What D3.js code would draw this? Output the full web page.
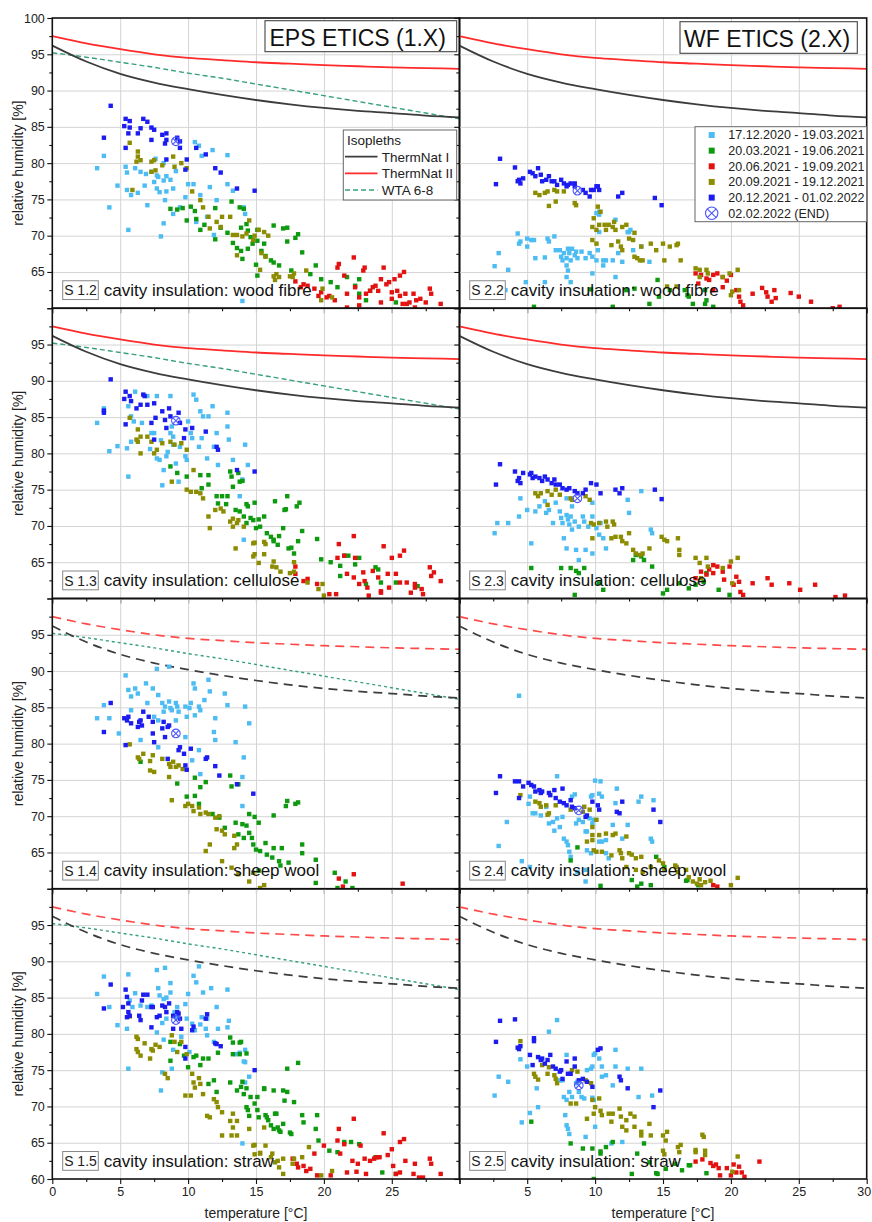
<!DOCTYPE html>
<html>
<head>
<meta charset="utf-8">
<script src="https://cdn.jsdelivr.net/npm/d3@7"></script>
<style>
  html, body { margin: 0; padding: 0; background: #fff; }
  svg { display: block; font-family: "Liberation Sans", Arial, sans-serif; }
</style>
</head>
<body>
<svg id="chart" width="872" height="1222"></svg>
<script>
// ---------- Isopleths (temperature [°C] -> relative humidity [%]) ----------
const isoTemps   = [0, 2.5, 5, 7.5, 10, 12.5, 15, 17.5, 20, 22.5, 25, 27.5, 30];
const thermNatI  = [96.2, 94.0, 92.3, 91.1, 90.2, 89.4, 88.7, 88.1, 87.6, 87.2, 86.9, 86.55, 86.3];
const thermNatII = [97.5, 96.5, 95.7, 95.0, 94.5, 94.2, 93.9, 93.7, 93.5, 93.35, 93.2, 93.1, 93.0];
const wta68      = [95.2, 94.6, 93.9, 93.2, 92.4, 91.7, 90.9, 90.1, 89.3, 88.5, 87.7, 86.9, 86.1];

// ---------- Measurement periods ----------
const periodLabels = ["17.12.2020 - 19.03.2021", "20.03.2021 - 19.06.2021", "20.06.2021 - 19.09.2021",
                      "20.09.2021 - 19.12.2021", "20.12.2021 - 01.02.2022"];
const endLabel = "02.02.2022 (END)";

// ---------- S 1.2 (EPS, wood fibre) : [temperature, rh] ----------
const s12_p1 = [[3.3,79.3],[3.8,81.0],[4.2,73.9],[4.8,76.9],[5.6,70.8],[5.4,79.5],[5.5,78.7],[5.8,75.6],[5.5,76.3],[6.1,79.3],[6.5,78.8],[6.8,76.9],[6.9,78.5],[7.3,78.8],[7.7,78.3],[7.7,76.5],[7.9,76.0],[8.2,80.0],[8.2,77.6],[8.4,78.2],[8.7,77.7],[8.0,69.9],[8.2,71.7],[8.3,74.9],[8.9,76.5],[8.9,73.0],[9.4,73.9],[9.8,75.3],[10.0,77.1],[10.4,77.1],[10.5,82.9],[10.8,82.4],[11.0,81.0],[11.6,76.7],[11.8,81.8],[12.1,74.9],[11.9,70.1],[12.9,81.1],[12.9,77.1],[13.3,76.2],[14.1,73.9],[14.2,73.0],[10.6,71.9],[11.4,72.6],[10.9,75.6],[14.0,61.0],[7.8,78.1],[7.5,77.4],[8.4,76.1],[7.6,80.6],[9.1,78.9],[6.3,75.9],[7.0,74.2]];
const s12_p2 = [[9.2,73.6],[9.6,73.8],[10.2,74.0],[10.5,73.4],[9.9,72.1],[10.6,72.3],[10.9,70.8],[11.2,71.5],[12.4,71.1],[13.2,74.7],[13.8,73.9],[14.1,73.7],[14.3,71.6],[13.9,71.1],[14.4,70.7],[14.6,69.8],[14.75,68.9],[14.4,68.2],[15.1,69.3],[15.6,68.9],[15.4,67.9],[15.7,67.2],[16.1,66.6],[16.3,66.3],[16.7,65.9],[16.3,71.4],[17.3,71.1],[18.1,70.2],[18.4,67.7],[19.4,65.9],[17.6,65.2],[19.0,64.7],[19.8,64.0],[20.5,63.6],[21.0,62.9],[21.7,64.3],[22.6,64.0],[22.3,63.1],[23.4,62.4],[22.6,62.0],[23.1,61.1],[25.3,60.8],[15.1,64.5],[13.9,67.9],[13.3,69.0],[12.9,70.4],[13.6,68.3],[14.0,66.8],[15.0,66.0],[12.0,69.5],[8.7,73.7],[12.0,73.8],[17.0,71.0],[17.3,69.2],[17.9,69.7],[15.1,70.8]];
const s12_p3 = [[18.5,63.3],[18.8,63.1],[19.3,62.7],[19.8,62.2],[20.4,61.7],[20.8,61.1],[21.0,65.6],[21.1,66.1],[21.5,64.5],[21.7,62.0],[22.2,67.0],[22.3,62.9],[22.6,61.5],[22.9,65.2],[23.0,65.6],[23.1,62.0],[23.4,62.4],[23.6,62.9],[23.8,63.1],[24.0,62.4],[24.2,64.0],[24.4,65.6],[24.6,63.3],[24.8,63.6],[25.2,64.0],[25.0,62.2],[25.0,61.3],[25.4,62.4],[25.6,64.5],[25.9,65.0],[25.6,61.7],[26.0,62.0],[26.1,60.6],[26.3,60.8],[26.6,62.0],[26.8,61.1],[27.1,61.3],[27.5,60.8],[27.8,62.7],[27.9,62.0],[28.6,60.6],[24.2,60.8],[21.7,60.1],[22.6,60.4],[25.8,60.6],[26.7,60.1],[18.3,62.9],[19.6,61.7],[20.2,61.5],[17.9,63.7]];
const s12_p4 = [[5.7,82.8],[6.3,81.6],[6.3,80.9],[6.2,80.2],[6.5,80.4],[7.3,80.2],[7.5,80.4],[7.6,79.0],[7.3,78.8],[8.1,79.7],[8.9,80.9],[9.5,80.0],[9.9,79.3],[9.0,79.5],[10.3,76.1],[10.9,74.9],[11.1,73.9],[11.5,72.6],[11.6,71.0],[12.1,71.9],[12.4,71.2],[12.5,72.6],[13.1,72.6],[13.3,70.1],[13.6,70.1],[14.0,69.9],[14.3,70.3],[14.8,69.4],[15.2,70.8],[15.6,70.5],[15.4,67.6],[15.7,67.1],[15.3,65.3],[16.3,64.4],[16.4,63.9],[17.5,64.4],[17.8,64.8],[13.6,67.3],[14.5,72.1],[14.9,70.0],[15.9,70.0],[16.5,64.7],[16.7,64.3],[17.7,64.3],[18.7,65.2],[19.8,61.1],[20.6,61.5],[19.9,62.7],[5.9,76.3]];
const s12_p5 = [[4.3,87.9],[3.8,83.5],[5.4,86.1],[5.7,85.8],[5.3,85.1],[5.7,84.9],[5.4,82.1],[5.6,84.1],[6.3,84.1],[6.5,84.8],[6.7,86.1],[7.0,85.7],[7.3,84.9],[7.5,84.6],[7.3,83.2],[8.1,83.9],[8.4,84.1],[8.4,83.2],[8.3,82.7],[9.2,83.5],[9.4,83.0],[9.4,82.1],[9.9,80.5],[9.8,79.1],[8.4,80.5],[10.6,82.1],[11.3,81.2],[12.0,79.3],[12.4,78.7],[13.6,76.5],[14.9,76.2]];
const s12_end = [9.1, 83.0];

// ---------- S 1.3 (EPS, cellulose) ----------
const s13_p1 = [[3.3,84.2],[3.8,86.2],[4.2,80.3],[4.8,81.0],[5.6,76.8],[5.5,80.7],[5.8,81.6],[5.8,85.1],[5.6,86.5],[6.0,84.4],[6.1,88.5],[7.7,87.9],[8.7,87.9],[7.5,82.8],[7.7,79.3],[7.9,79.1],[8.2,77.7],[8.1,75.6],[8.4,79.6],[8.7,82.8],[8.8,83.7],[8.9,82.3],[9.3,76.1],[9.4,80.9],[9.8,79.6],[9.9,79.1],[10.0,84.4],[10.2,82.8],[10.3,82.1],[10.4,88.1],[10.6,87.4],[10.8,80.9],[10.9,85.8],[11.0,82.1],[11.1,85.1],[11.4,79.3],[11.5,85.1],[11.8,86.5],[11.9,80.9],[12.1,82.8],[12.2,78.4],[12.9,85.6],[12.9,83.7],[13.0,81.9],[13.3,79.1],[13.8,74.1],[14.1,68.1],[14.2,81.2],[14.4,78.4],[7.0,87.9],[7.3,82.8],[8.9,81.2],[7.2,80.6],[8.0,81.8],[8.5,80.2],[9.1,78.6],[6.6,84.2],[14.0,76.4]];
const s13_p2 = [[8.7,78.2],[9.2,77.3],[9.9,76.8],[10.9,77.0],[11.5,77.0],[11.5,75.7],[12.1,74.1],[12.5,74.1],[12.2,73.1],[12.9,74.1],[13.1,77.5],[13.2,76.8],[13.3,75.4],[13.7,77.3],[13.8,76.1],[13.5,72.2],[13.8,72.0],[14.1,71.3],[14.3,70.4],[14.4,72.7],[14.8,70.8],[15.0,69.7],[15.3,69.9],[15.6,71.3],[15.8,69.0],[16.1,68.5],[16.3,68.1],[16.4,73.4],[16.6,67.4],[17.0,69.7],[17.3,74.1],[17.1,72.2],[17.4,66.9],[17.8,66.2],[18.0,72.7],[18.1,67.9],[14.0,76.2],[14.3,73.0],[14.9,73.2],[14.6,71.1],[15.2,70.9],[16.3,67.9],[16.7,68.6],[17.2,72.3],[18.2,73.2],[17.6,67.0],[18.4,69.3],[19.5,68.2],[19.8,65.4],[20.5,65.0],[21.2,64.5],[21.5,65.9],[21.8,65.9],[22.6,65.6],[22.3,64.7],[21.2,63.1],[23.1,62.0],[23.8,64.3],[24.0,64.0],[24.2,62.2],[25.3,62.2],[26.9,61.7],[11.0,75.2],[12.8,73.0]];
const s13_p3 = [[17.9,63.4],[18.5,62.4],[18.8,62.7],[19.5,62.0],[20.4,60.6],[20.9,60.6],[21.1,67.5],[22.2,68.6],[21.0,65.6],[21.5,65.9],[21.7,63.4],[22.2,62.9],[22.3,65.6],[22.6,62.0],[22.9,63.6],[23.0,62.4],[23.2,61.5],[23.6,63.8],[24.0,62.9],[24.2,60.8],[24.4,67.2],[24.7,63.4],[25.0,65.6],[25.3,63.4],[25.6,65.9],[25.9,66.6],[25.6,62.2],[26.1,62.2],[26.4,60.8],[26.7,62.0],[26.7,61.5],[27.2,61.3],[27.3,60.6],[27.8,64.3],[27.9,63.1],[28.1,63.6],[28.6,62.4],[24.8,61.5],[24.2,61.0],[23.3,60.4],[17.9,64.4]];
const s13_p4 = [[5.7,84.9],[6.3,83.3],[6.5,82.3],[6.2,81.9],[6.3,81.6],[6.5,80.0],[7.0,82.3],[7.3,81.6],[7.5,80.0],[7.7,80.5],[8.1,81.4],[8.7,81.6],[8.8,76.1],[9.0,81.2],[9.5,81.4],[9.9,80.5],[9.9,75.0],[10.2,74.7],[10.4,77.7],[10.6,74.7],[10.9,74.5],[11.1,73.8],[11.5,71.3],[11.6,69.7],[12.0,72.2],[12.4,72.4],[12.6,72.0],[13.1,70.6],[13.3,69.9],[13.3,71.0],[13.6,70.4],[13.7,70.8],[13.5,66.9],[14.1,69.9],[14.8,67.6],[15.6,67.8],[14.8,65.8],[15.2,64.9],[16.2,64.4],[16.8,63.7],[17.5,63.5],[17.8,63.7],[16.3,65.1],[14.9,67.7],[14.9,66.1],[15.7,67.5],[15.6,66.1],[16.5,64.3],[17.8,65.0],[18.8,62.2],[19.9,62.0],[19.6,61.3],[20.0,60.4]];
const s13_p5 = [[4.3,90.2],[3.8,85.6],[3.8,85.9],[5.4,88.5],[5.7,87.9],[5.3,87.5],[5.8,87.2],[5.4,84.0],[6.2,86.2],[6.5,86.7],[6.7,88.1],[6.8,87.9],[7.0,86.7],[7.5,86.9],[7.3,84.2],[7.6,84.9],[8.1,85.8],[8.3,84.6],[8.6,86.2],[8.4,83.5],[8.7,85.1],[9.3,85.6],[9.4,84.2],[9.7,82.1],[9.8,83.3],[10.3,83.5],[11.3,83.0],[12.1,80.9],[12.2,80.5],[13.6,77.7],[14.9,77.5],[7.5,81.9]];
const s13_end = [9.1, 84.5];

// ---------- S 1.4 (EPS, sheep wool) ----------
const s14_p1 = [[3.3,83.5],[3.8,85.3],[4.2,83.5],[4.9,81.4],[5.4,89.4],[5.8,86.5],[5.6,87.4],[5.8,84.6],[6.1,87.6],[6.5,80.5],[6.9,88.3],[7.0,85.6],[7.4,87.6],[7.5,83.7],[7.7,90.3],[7.8,86.7],[7.8,83.2],[8.1,85.6],[8.2,84.4],[8.3,85.1],[8.6,85.8],[8.6,90.6],[8.7,84.9],[8.8,84.6],[9.1,85.6],[9.2,85.1],[9.3,84.4],[9.1,83.2],[7.8,79.5],[9.8,85.1],[9.9,83.7],[10.1,84.9],[9.8,80.9],[10.4,88.3],[10.5,83.9],[10.8,85.1],[10.9,84.6],[10.5,87.6],[11.2,86.0],[11.5,88.8],[11.6,87.2],[11.9,81.6],[12.0,83.5],[12.0,80.5],[12.7,86.9],[12.9,85.3],[13.5,80.2],[14.2,85.1],[14.5,82.8],[14.1,78.1],[10.8,79.1],[10.9,75.8],[14.0,75.4],[14.0,71.4],[10.3,77.7],[6.3,86.9],[10.2,85.6]];
const s14_p2 = [[6.5,77.5],[9.2,74.5],[10.5,75.3],[10.9,74.0],[11.3,74.7],[10.5,72.8],[9.9,72.7],[10.8,71.7],[13.1,75.6],[13.2,74.1],[13.7,74.4],[11.8,70.3],[12.3,69.8],[12.7,68.4],[13.5,69.1],[14.0,68.9],[14.3,68.7],[14.5,70.3],[13.7,67.5],[14.1,67.0],[14.5,67.7],[14.7,67.0],[14.8,66.1],[15.2,69.1],[15.0,65.4],[15.3,65.2],[15.7,66.3],[15.8,64.7],[16.2,64.3],[16.3,65.6],[16.7,63.8],[16.9,65.6],[17.4,63.6],[17.3,72.1],[17.2,71.4],[17.9,71.7],[18.1,71.9],[16.3,70.1],[18.4,66.1],[18.4,64.9],[19.4,64.0],[19.4,60.8],[20.8,62.2],[21.6,61.0],[22.1,60.1],[21.0,60.1],[16.8,63.2],[15.2,62.5],[14.9,69.9]];
const s14_p3 = [[21.1,61.4],[22.2,62.0],[21.4,60.3],[25.8,60.7]];
const s14_p4 = [[5.7,79.9],[6.3,78.1],[6.4,77.9],[6.7,78.6],[7.2,77.6],[7.4,78.4],[7.2,76.3],[7.5,76.1],[8.1,77.9],[8.6,77.2],[8.7,76.8],[8.6,75.4],[8.9,77.5],[9.1,76.8],[9.3,77.0],[8.8,72.2],[9.8,71.4],[10.0,71.7],[10.3,71.4],[10.4,70.7],[10.8,71.2],[10.9,70.3],[11.3,70.5],[11.5,70.3],[12.0,69.8],[12.3,70.0],[12.1,68.2],[12.5,68.0],[12.7,67.5],[13.4,67.3],[13.4,65.6],[13.6,66.1],[11.6,66.1],[11.3,65.2],[12.5,63.8],[13.2,62.9],[13.7,62.0],[15.3,60.1],[14.5,61.0],[15.6,60.5],[9.6,76.5],[14.8,62.2]];
const s14_p5 = [[4.3,85.6],[3.8,81.6],[5.3,83.5],[5.5,83.2],[5.4,79.8],[5.6,83.7],[5.8,82.8],[6.3,82.3],[6.4,83.0],[6.5,83.2],[6.6,82.5],[6.7,84.4],[7.1,83.7],[7.4,83.0],[7.4,81.4],[7.5,80.2],[8.1,82.1],[8.2,83.0],[8.3,80.9],[8.5,82.3],[8.6,82.5],[9.3,79.1],[9.4,79.5],[9.7,78.6],[8.5,77.9],[9.8,77.0],[11.3,77.9],[11.4,78.1],[12.0,76.9],[12.3,75.6],[13.6,74.4],[14.8,73.1],[10.2,79.3],[9.9,76.4]];
const s14_end = [9.1, 81.4];

// ---------- S 1.5 (EPS, straw) ----------
const s15_p1 = [[3.3,85.5],[3.8,87.9],[4.2,83.7],[4.8,81.2],[5.6,75.2],[5.6,88.2],[5.5,80.7],[5.7,84.6],[5.9,83.7],[6.1,85.6],[6.5,83.9],[7.0,83.7],[7.3,83.9],[7.7,88.8],[8.3,89.1],[7.8,86.3],[7.9,85.3],[8.2,84.8],[8.4,85.0],[8.7,87.0],[8.7,85.7],[7.7,80.2],[8.1,81.5],[8.1,74.7],[8.0,72.2],[8.2,79.2],[8.4,82.1],[8.8,75.2],[8.9,77.8],[9.0,83.0],[9.2,82.3],[9.2,83.7],[9.8,84.1],[9.9,82.1],[10.0,85.5],[10.3,81.4],[10.4,88.0],[10.5,80.5],[10.6,87.1],[10.8,89.3],[10.9,81.3],[11.0,82.3],[11.1,85.7],[11.3,80.7],[11.4,79.8],[11.4,82.1],[11.7,86.3],[11.9,78.9],[12.1,83.7],[12.2,80.7],[12.9,86.1],[12.9,80.9],[13.0,81.8],[13.5,77.2],[13.8,77.4],[14.2,76.1],[14.2,73.3],[14.0,64.9],[10.1,77.5],[14.2,77.8],[14.1,76.2],[14.5,74.1],[9.5,79.6]];
const s15_p2 = [[8.7,78.9],[8.7,76.3],[9.4,78.6],[9.7,77.0],[10.0,75.4],[10.4,76.8],[10.6,77.0],[11.1,76.6],[11.5,76.6],[11.5,73.1],[11.9,73.6],[12.1,72.0],[13.1,79.5],[13.3,78.8],[13.3,77.2],[13.8,78.8],[13.8,77.2],[13.1,73.3],[13.6,72.2],[13.9,72.7],[14.1,71.7],[14.3,69.9],[14.5,68.7],[15.1,71.3],[15.6,72.4],[15.8,68.5],[16.3,66.9],[16.4,69.0],[16.7,66.7],[17.0,72.2],[17.3,75.2],[17.5,66.4],[17.8,70.6],[13.9,78.9],[14.3,77.3],[14.0,73.4],[14.3,72.5],[14.6,71.3],[14.9,70.4],[14.4,69.5],[15.1,69.5],[15.2,68.5],[15.6,72.5],[15.7,68.8],[15.9,68.1],[16.1,67.4],[16.3,72.2],[16.5,69.0],[16.6,67.1],[16.8,66.5],[17.0,67.6],[17.1,70.8],[17.3,72.0],[17.6,66.2],[18.1,76.0],[18.4,68.8],[18.5,67.8],[19.4,66.9],[19.5,68.8],[19.6,65.3],[20.4,63.9],[21.0,63.7],[21.5,65.1],[22.0,65.1],[22.6,64.8],[23.8,63.0],[24.3,60.9],[25.3,60.7],[12.2,77.4],[10.9,75.7]];
const s15_p3 = [[17.7,62.8],[18.0,62.1],[18.1,61.6],[18.5,61.8],[18.7,61.1],[19.0,61.4],[19.3,63.5],[19.5,60.5],[20.0,64.6],[20.5,60.5],[21.0,65.3],[21.1,66.9],[21.2,63.5],[21.5,64.8],[21.7,60.9],[22.2,68.3],[22.1,62.5],[22.4,61.0],[22.5,62.1],[22.7,64.6],[23.0,62.8],[23.1,60.7],[23.4,62.5],[23.7,62.8],[23.9,63.0],[24.1,63.0],[24.4,66.3],[24.7,63.3],[25.0,64.1],[25.1,61.8],[25.3,60.7],[25.6,60.9],[25.6,65.1],[25.9,65.5],[26.0,62.5],[26.6,60.7],[26.7,62.1],[27.0,60.2],[27.3,60.2],[27.8,62.8],[27.9,62.1],[28.6,60.7]];
const s15_p4 = [[5.7,82.4],[6.2,79.6],[6.3,79.3],[6.2,77.9],[6.3,77.5],[6.5,77.0],[6.8,78.7],[7.3,77.9],[7.4,77.7],[7.2,76.6],[7.6,78.5],[7.9,78.2],[8.3,74.5],[8.5,73.9],[8.8,79.8],[9.0,78.9],[9.2,77.5],[9.5,78.9],[9.8,71.5],[10.2,71.5],[9.9,77.2],[10.3,74.5],[10.4,73.3],[10.5,72.6],[10.8,73.9],[10.9,73.1],[11.1,71.7],[11.4,68.7],[11.6,68.5],[11.9,71.0],[12.1,70.6],[12.2,69.9],[12.5,69.2],[12.5,66.0],[13.1,68.0],[13.3,67.1],[13.3,69.0],[13.6,68.0],[13.2,66.0],[13.6,66.0],[14.8,64.6],[14.9,63.4],[15.3,63.6],[15.7,64.6],[16.1,63.0],[16.4,62.3],[16.7,61.6],[17.0,60.7],[17.0,62.8],[14.5,66.9],[14.9,64.7],[15.6,67.1],[15.3,63.5],[16.2,63.5],[16.6,62.5],[17.7,62.1],[17.8,62.8],[18.4,63.0],[18.9,64.4],[19.8,60.5],[20.6,61.1]];
const s15_p5 = [[4.3,86.8],[3.8,83.5],[5.4,86.1],[5.2,83.7],[5.5,82.3],[5.6,83.0],[5.7,82.5],[5.5,85.1],[5.6,84.2],[6.4,82.5],[6.5,81.9],[6.7,85.4],[7.0,85.4],[6.6,84.6],[7.3,83.7],[7.4,83.7],[7.3,80.9],[7.7,82.3],[7.9,82.5],[8.1,83.9],[8.3,83.7],[8.4,83.0],[8.6,84.2],[8.9,82.5],[8.9,80.7],[9.2,83.0],[9.3,82.8],[9.4,82.1],[9.5,80.7],[9.8,78.2],[9.8,76.6],[10.3,80.5],[10.4,81.0],[11.3,82.1],[11.4,82.7],[12.0,78.7],[12.1,78.6],[12.4,78.3],[14.9,75.0]];
const s15_end = [9.1, 81.9];

// ---------- S 2.2 (WF, wood fibre) ----------
const s22_p1 = [[2.6,65.8],[2.9,67.6],[3.6,65.3],[4.3,70.3],[4.4,68.9],[4.5,69.2],[5.0,69.6],[5.3,69.4],[5.5,69.4],[5.0,68.5],[5.6,66.9],[6.3,67.0],[6.5,69.6],[6.6,69.2],[7.0,69.9],[7.1,68.0],[7.4,68.0],[7.5,67.1],[7.6,66.6],[7.7,67.6],[7.9,66.9],[8.0,68.2],[8.1,67.6],[8.2,66.6],[8.3,68.2],[8.5,67.3],[8.6,67.8],[7.9,65.9],[8.7,66.9],[9.0,67.8],[9.3,66.9],[9.6,67.6],[9.8,67.1],[10.1,66.6],[10.2,68.0],[10.3,72.9],[10.3,73.3],[10.6,65.9],[10.8,66.6],[11.3,66.6],[11.5,64.3],[11.7,67.6],[12.5,70.5],[12.8,68.0],[9.8,64.8],[7.9,64.3],[3.4,62.5],[4.9,63.6],[6.3,63.6],[8.2,63.6],[10.1,73.1],[10.3,70.5],[10.6,66.6],[12.0,66.4],[12.6,70.8],[13.4,68.5],[14.0,66.4],[11.5,72.2],[12.4,70.5],[8.0,65.2]];
const s22_p2 = [[11.3,60.2],[14.0,60.6],[14.6,63.9],[14.7,61.6],[15.5,62.5],[16.8,61.8],[16.9,61.6],[18.2,61.1],[17.2,60.6],[12.3,62.5],[12.9,62.7],[16.6,62.5],[18.1,62.5],[18.1,60.6],[18.7,60.2],[9.7,62.6],[5.5,60.2]];
const s22_p3 = [[17.4,64.8],[17.8,64.6],[18.2,64.1],[18.4,63.9],[18.7,64.6],[19.0,64.8],[19.4,64.3],[19.7,63.8],[20.0,64.6],[18.7,62.5],[19.4,62.9],[20.4,62.5],[20.6,61.6],[20.9,60.4],[21.6,62.0],[17.6,63.4],[20.7,60.9],[22.3,62.8],[22.6,62.2],[22.7,61.6],[23.0,60.9],[23.3,61.4],[23.2,62.5],[24.4,62.1],[25.0,61.6],[25.9,60.9],[27.5,60.0],[28.0,60.2]];
const s22_p4 = [[5.6,75.9],[5.9,75.6],[6.3,75.9],[6.5,76.1],[7.0,76.3],[7.2,76.1],[7.1,74.7],[6.6,74.1],[7.7,76.1],[8.5,74.5],[8.6,74.2],[9.9,72.4],[10.2,74.0],[9.8,71.2],[10.1,70.8],[10.3,71.5],[10.7,71.5],[10.8,70.8],[11.0,71.5],[11.3,71.2],[11.4,71.9],[11.5,70.8],[12.0,71.2],[12.3,71.5],[9.8,69.4],[10.1,68.9],[11.2,68.7],[11.7,69.2],[11.9,68.5],[12.0,68.0],[12.5,69.6],[12.8,69.4],[12.9,67.1],[13.1,66.9],[13.4,68.5],[13.5,66.6],[14.1,68.9],[14.5,68.0],[15.0,68.9],[15.5,68.5],[15.1,66.6],[16.1,68.9],[16.3,66.6],[17.4,65.5],[17.7,65.3],[18.2,65.3],[18.3,64.8],[17.7,64.3],[19.4,64.3],[19.9,64.8],[20.5,65.3],[20.1,62.3],[20.6,62.5],[20.0,61.8],[12.9,70.4],[13.3,66.6],[16.0,68.7],[15.3,63.0],[16.0,63.0],[10.4,73.3]];
const s22_p5 = [[3.0,80.6],[2.7,77.1],[4.1,79.4],[4.3,77.5],[4.4,77.7],[4.5,77.2],[4.7,77.9],[5.2,78.8],[5.4,78.6],[5.8,79.3],[5.6,78.2],[6.0,78.4],[6.1,77.5],[6.4,77.7],[6.6,78.2],[6.8,77.5],[7.0,77.5],[7.2,77.0],[7.5,77.7],[7.7,77.2],[7.9,76.8],[8.0,77.0],[8.2,77.2],[8.5,77.2],[8.5,76.8],[9.1,76.3],[9.3,75.9],[9.6,75.4],[9.7,76.3],[10.1,76.8],[10.3,76.3],[11.7,75.4],[12.0,75.9],[14.4,75.2],[14.9,74.2],[9.9,76.3],[10.2,76.8]];
const s22_end = [8.7, 76.2];

// ---------- S 2.3 (WF, cellulose) ----------
const s23_p1 = [[2.6,69.0],[2.8,70.4],[3.6,70.4],[4.4,71.3],[4.5,73.8],[5.0,72.2],[5.3,67.6],[5.6,72.0],[5.9,72.7],[6.3,73.4],[6.4,71.8],[6.6,72.2],[6.9,70.4],[7.1,73.2],[7.4,72.0],[7.5,71.1],[7.6,70.4],[7.7,68.3],[7.9,71.5],[8.0,70.9],[8.1,70.2],[8.2,71.3],[8.3,69.5],[8.5,70.6],[8.6,66.7],[8.8,69.9],[9.1,71.3],[9.2,70.6],[9.5,69.9],[9.8,71.3],[10.1,69.7],[10.3,68.8],[10.4,70.4],[10.6,68.3],[10.8,66.9],[12.4,73.6],[13.4,74.8],[12.5,71.8],[14.1,69.5],[14.2,69.0],[7.9,66.9],[9.3,66.7],[9.8,66.2],[8.8,65.3],[7.9,73.8],[9.8,73.2],[8.3,72.7]];
const s23_p2 = [[5.3,64.2],[7.5,64.2],[8.2,64.2],[8.6,63.8],[8.8,63.5],[9.2,64.2],[10.3,62.1],[8.5,60.5],[10.6,61.2],[12.8,65.3],[13.0,66.0],[13.4,65.8],[13.6,65.3],[14.2,64.4],[15.0,60.7],[15.3,61.2],[16.2,62.1],[16.9,61.4],[17.4,61.9],[18.2,63.5],[18.0,62.3],[19.1,61.2],[19.9,60.5]];
const s23_p3 = [[17.4,62.8],[17.8,63.7],[18.2,63.3],[18.4,64.0],[18.7,63.5],[18.7,64.6],[19.0,64.4],[19.4,63.7],[19.9,64.4],[19.5,62.6],[20.4,63.0],[20.6,62.3],[20.2,61.9],[20.7,60.9],[20.9,60.5],[21.6,62.1],[22.7,62.8],[23.0,61.9],[24.3,62.1],[25.1,61.2],[26.2,61.9],[27.7,60.2],[28.4,60.4]];
const s23_p4 = [[5.6,74.5],[5.8,74.1],[6.0,74.5],[6.5,74.8],[6.5,72.9],[6.8,74.3],[7.1,75.0],[7.4,74.3],[8.2,73.8],[8.3,73.6],[9.3,74.1],[9.6,73.6],[9.7,70.4],[9.9,70.2],[9.8,68.3],[10.3,70.4],[10.8,70.6],[10.9,69.9],[11.3,70.6],[11.4,70.2],[11.2,68.3],[11.5,68.5],[11.9,68.5],[12.0,67.9],[12.3,67.6],[12.5,69.0],[12.8,66.7],[13.0,66.2],[13.3,66.0],[13.5,66.2],[14.0,66.9],[14.9,68.5],[15.1,68.1],[15.3,67.9],[16.1,68.3],[16.2,66.7],[16.2,66.0],[17.4,65.6],[17.7,64.9],[18.2,65.6],[18.3,64.4],[19.4,64.2],[20.0,65.1],[20.5,65.6],[20.1,62.1],[17.8,62.8]];
const s23_p5 = [[3.0,78.5],[2.7,75.7],[4.1,77.5],[4.3,76.2],[4.4,76.6],[4.5,75.9],[4.7,77.3],[5.2,77.1],[5.3,77.3],[5.4,76.6],[5.6,76.8],[5.9,76.6],[6.1,76.2],[6.3,76.8],[6.5,76.4],[6.8,75.9],[7.0,76.4],[7.1,75.7],[7.4,75.7],[7.6,75.2],[7.9,75.0],[8.1,75.2],[8.5,74.8],[8.7,74.5],[9.1,74.5],[9.3,75.0],[9.7,75.9],[10.1,75.7],[10.4,74.5],[11.5,75.0],[11.8,74.5],[12.0,75.2],[14.4,75.0],[14.9,73.7]];
const s23_end = [8.7, 73.8];

// ---------- S 2.4 (WF, sheep wool) ----------
const s24_p1 = [[4.4,86.6],[3.5,69.2],[2.9,65.9],[4.6,63.8],[5.2,63.0],[5.2,72.7],[5.4,70.4],[5.6,70.4],[6.4,71.3],[6.6,69.0],[6.9,69.2],[7.2,75.5],[7.2,69.7],[7.4,68.5],[7.6,69.9],[7.7,66.9],[7.9,66.5],[8.0,66.0],[8.1,65.1],[8.2,64.4],[8.3,72.7],[8.5,73.0],[8.6,69.0],[8.8,69.5],[9.1,69.2],[9.3,67.9],[9.4,67.9],[9.6,69.7],[9.7,72.7],[9.8,69.0],[9.9,69.5],[9.8,72.9],[10.0,74.9],[10.4,74.8],[10.3,73.1],[10.5,72.7],[10.3,66.5],[10.5,66.5],[10.8,66.7],[9.4,65.3],[9.3,62.6],[9.7,64.9],[10.8,64.9],[11.0,64.2],[11.3,68.8],[11.5,71.8],[11.6,73.8],[12.0,66.9],[12.4,68.8],[13.2,72.0],[13.4,72.7],[14.1,66.9],[14.2,66.5],[14.3,72.2],[5.1,71.7],[6.0,70.1],[7.0,68.0],[8.7,62.3],[9.3,61.0]];
const s24_p2 = [[8.2,63.9],[8.7,65.7],[10.4,60.4],[12.7,61.2],[13.4,60.7],[14.5,64.4],[15.1,63.0],[16.8,61.2],[17.6,60.5],[13.1,60.3],[14.1,60.5],[16.7,61.1]];
const s24_p3 = [[18.7,60.5],[19.0,60.3]];
const s24_p4 = [[4.5,72.9],[5.6,72.0],[5.9,71.8],[6.0,71.3],[6.4,71.5],[6.5,70.2],[6.6,70.4],[7.1,71.5],[8.2,70.9],[9.2,71.3],[9.1,70.6],[9.6,70.9],[9.8,68.5],[10.1,69.5],[9.8,67.4],[10.3,67.4],[10.8,67.6],[11.3,67.4],[11.5,67.6],[9.8,66.7],[9.4,66.5],[9.9,65.3],[10.1,65.1],[10.5,65.1],[11.2,64.6],[11.8,65.3],[11.9,64.9],[12.0,64.2],[12.3,67.2],[12.5,64.9],[12.7,64.7],[13.0,64.2],[13.4,64.4],[12.3,63.0],[13.0,62.6],[13.5,62.3],[14.1,63.0],[14.7,63.9],[15.0,63.5],[15.1,62.6],[15.9,63.2],[16.1,62.3],[16.7,62.6],[16.9,61.6],[17.5,60.7],[17.7,61.3],[18.1,60.9],[18.5,61.1],[20.0,60.5],[20.5,61.5],[16.0,63.0],[17.2,61.0],[17.8,60.5]];
const s24_p5 = [[3.0,75.5],[2.7,73.2],[4.1,74.8],[4.4,74.8],[4.7,74.1],[4.4,72.5],[5.1,74.6],[5.3,74.3],[5.5,74.1],[5.6,73.4],[5.9,73.6],[6.0,73.2],[6.1,73.4],[6.6,73.2],[6.7,72.9],[7.0,73.6],[7.1,72.5],[7.4,72.0],[7.6,73.8],[7.7,71.8],[7.9,71.5],[8.2,72.2],[8.3,71.3],[8.5,71.1],[9.3,69.9],[9.4,70.1],[9.8,72.0],[10.2,71.5],[10.3,70.9],[11.8,70.4],[11.6,70.6],[12.0,72.0],[14.3,70.9],[14.8,69.2]];
const s24_end = [8.8, 70.8];

// ---------- S 2.5 (WF, straw) ----------
const s25_p1 = [[2.6,71.5],[2.9,74.1],[3.6,73.4],[4.5,76.5],[4.6,67.8],[5.0,75.5],[5.2,69.1],[5.7,72.5],[5.8,69.9],[6.6,80.3],[7.2,81.9],[7.4,73.6],[7.6,73.6],[7.7,71.3],[7.9,70.9],[7.8,68.8],[7.9,67.4],[8.0,66.9],[8.1,66.2],[8.1,72.0],[8.3,71.3],[8.6,73.2],[8.7,73.4],[9.0,71.3],[9.2,71.1],[9.4,75.0],[9.3,65.8],[9.7,75.2],[9.8,75.5],[9.9,77.1],[10.0,77.3],[10.0,67.2],[10.3,76.6],[10.5,74.1],[10.5,75.5],[10.8,74.3],[11.2,64.9],[11.3,72.9],[11.5,77.8],[11.5,75.5],[12.0,65.1],[12.4,75.2],[13.2,71.3],[13.4,75.2],[14.2,71.5],[7.9,77.1],[8.8,72.0],[9.9,70.9],[9.8,71.2]];
const s25_p2 = [[5.3,67.9],[8.2,64.9],[9.1,64.2],[9.8,64.2],[10.4,63.5],[10.8,64.4],[11.3,65.1],[13.1,63.5],[13.6,64.9],[14.0,62.3],[14.6,60.7],[15.2,61.4],[15.9,62.1],[16.4,61.2],[16.9,61.9],[9.9,60.0],[10.4,63.8],[14.5,60.8],[17.0,61.9],[18.2,60.8],[12.7,60.7]];
const s25_p3 = [[17.4,62.4],[17.9,62.7],[18.5,62.2],[18.7,61.8],[18.9,62.0],[19.1,61.5],[19.7,61.5],[20.2,62.0],[20.4,60.9],[20.6,61.7],[20.8,60.9],[19.2,60.5],[20.0,60.5],[21.0,60.3],[22.1,62.4]];
const s25_p4 = [[4.5,79.0],[5.5,74.5],[5.6,74.1],[5.8,73.7],[6.1,75.7],[6.5,74.5],[6.6,75.4],[7.0,74.3],[7.1,73.8],[7.2,73.2],[8.3,75.0],[8.2,70.4],[8.6,70.4],[8.7,74.8],[9.3,73.6],[9.7,73.2],[9.8,70.9],[9.9,69.0],[10.0,69.9],[9.4,68.3],[10.3,71.1],[10.4,69.4],[10.5,68.8],[11.0,69.0],[11.2,67.9],[11.3,69.0],[11.8,69.7],[11.9,68.6],[12.0,67.2],[12.3,68.1],[12.3,66.7],[12.6,69.0],[12.9,68.6],[12.9,67.2],[13.4,66.5],[13.4,66.0],[14.0,67.6],[14.1,66.0],[15.0,66.0],[15.3,66.5],[15.2,65.3],[16.1,64.4],[16.2,63.7],[15.0,63.9],[15.1,63.4],[17.4,63.7],[18.0,65.8],[18.1,63.9],[17.9,66.1],[18.1,63.3],[20.5,63.1],[20.1,61.0],[16.3,64.7],[17.4,64.0]];
const s25_p5 = [[3.0,81.8],[4.1,82.0],[2.7,78.9],[4.3,78.1],[4.4,77.9],[4.5,78.3],[5.2,77.1],[5.4,75.7],[5.5,79.4],[5.5,79.0],[5.8,76.8],[6.0,76.4],[6.1,76.6],[6.3,75.9],[6.5,76.4],[6.7,77.1],[6.9,75.5],[7.1,75.2],[7.4,74.8],[7.5,75.0],[7.6,73.8],[7.9,76.2],[8.0,74.5],[8.2,74.5],[8.5,75.5],[8.5,76.6],[8.8,73.6],[9.1,73.8],[9.4,73.4],[9.8,72.7],[10.2,77.8],[10.4,78.0],[11.8,74.1],[11.9,73.6],[12.4,72.5],[14.3,69.9],[14.8,72.2]];
const s25_end = [8.8, 72.9];

// ---------- Layout and styling ----------
const periodColors = ["#4cbcf2", "#0e9a0e", "#e41111", "#8c8c00", "#1c1cf0"];
const endColor = "#4a55ff";
const colLeft = [52.3, 459.3], plotW = 407.4;
const plotTop = 18, plotH = 290.25;

const panels = [
  { code: "S 1.2", text: "cavity insulation: wood fibre", col: 0, row: 0, series: [s12_p1, s12_p2, s12_p3, s12_p4, s12_p5], end: s12_end },
  { code: "S 1.3", text: "cavity insulation: cellulose",  col: 0, row: 1, series: [s13_p1, s13_p2, s13_p3, s13_p4, s13_p5], end: s13_end },
  { code: "S 1.4", text: "cavity insulation: sheep wool", col: 0, row: 2, series: [s14_p1, s14_p2, s14_p3, s14_p4, s14_p5], end: s14_end },
  { code: "S 1.5", text: "cavity insulation: straw",      col: 0, row: 3, series: [s15_p1, s15_p2, s15_p3, s15_p4, s15_p5], end: s15_end },
  { code: "S 2.2", text: "cavity insulation: wood fibre", col: 1, row: 0, series: [s22_p1, s22_p2, s22_p3, s22_p4, s22_p5], end: s22_end },
  { code: "S 2.3", text: "cavity insulation: cellulose",  col: 1, row: 1, series: [s23_p1, s23_p2, s23_p3, s23_p4, s23_p5], end: s23_end },
  { code: "S 2.4", text: "cavity insulation: sheep wool", col: 1, row: 2, series: [s24_p1, s24_p2, s24_p3, s24_p4, s24_p5], end: s24_end },
  { code: "S 2.5", text: "cavity insulation: straw",      col: 1, row: 3, series: [s25_p1, s25_p2, s25_p3, s25_p4, s25_p5], end: s25_end }
];

const svg = d3.select("#chart");
const defs = svg.append("defs");
const zip = ys => isoTemps.map((t, i) => [t, ys[i]]);

function endMarker(sel, cx, cy, r) {
  const g = sel.append("g").attr("transform", `translate(${cx},${cy})`)
    .attr("stroke", endColor).attr("fill", "none").attr("stroke-width", 1.1);
  g.append("circle").attr("r", r);
  const k = r * 0.72;
  g.append("line").attr("x1", -k).attr("y1", -k).attr("x2", k).attr("y2", k);
  g.append("line").attr("x1", -k).attr("y1", k).attr("x2", k).attr("y2", -k);
}

panels.forEach(p => {
  const x0 = colLeft[p.col], y0 = plotTop + p.row * plotH;
  const x = d3.scaleLinear().domain([0, 30]).range([x0, x0 + plotW]);
  const y = d3.scaleLinear().domain([60, 100]).range([y0 + plotH, y0]);
  const clipId = `clip-${p.col}-${p.row}`;
  defs.append("clipPath").attr("id", clipId)
    .append("rect").attr("x", x0).attr("y", y0).attr("width", plotW).attr("height", plotH);

  const g = svg.append("g");

  // grid
  g.append("g").attr("transform", `translate(0,${y0 + plotH})`)
    .call(d3.axisBottom(x).tickValues([5, 10, 15, 20, 25]).tickSize(-plotH).tickFormat(""))
    .call(s => { s.select(".domain").remove(); s.selectAll("line").attr("stroke", "#d4d4d4"); });
  g.append("g").attr("transform", `translate(${x0},0)`)
    .call(d3.axisLeft(y).tickValues([65, 70, 75, 80, 85, 90, 95]).tickSize(-plotW).tickFormat(""))
    .call(s => { s.select(".domain").remove(); s.selectAll("line").attr("stroke", "#d4d4d4"); });

  // isopleths
  const line = d3.line().x(d => x(d[0])).y(d => y(d[1])).curve(d3.curveMonotoneX);
  const iso = g.append("g").attr("clip-path", `url(#${clipId})`).attr("fill", "none");
  const dashed = p.row >= 2;
  if (p.col === 0) {
    iso.append("path").attr("d", line(zip(wta68)))
      .attr("stroke", "#36a078").attr("stroke-width", 1.4)
      .attr("stroke-dasharray", dashed ? "3,3" : "5,3");
  }
  iso.append("path").attr("d", line(zip(thermNatI)))
    .attr("stroke", "#3c3c3c").attr("stroke-width", dashed ? 1.7 : 1.8)
    .attr("stroke-dasharray", dashed ? "9,6" : null);
  iso.append("path").attr("d", line(zip(thermNatII)))
    .attr("stroke", dashed ? "#ff4a4a" : "#ff2a2a").attr("stroke-width", dashed ? 1.7 : 1.8)
    .attr("stroke-dasharray", dashed ? "9,6" : null);

  // measurements
  const pts = g.append("g").attr("clip-path", `url(#${clipId})`);
  const sz = 4.4;
  p.series.forEach((arr, i) => {
    pts.append("g").selectAll("rect").data(arr).join("rect")
      .attr("x", d => x(d[0]) - sz / 2).attr("y", d => y(d[1]) - sz / 2)
      .attr("width", sz).attr("height", sz).attr("fill", periodColors[i]);
  });
  endMarker(pts, x(p.end[0]), y(p.end[1]), 4.3);

  // axes (major + minor ticks, labels only on the outer sides)
  const showY = v => {
    if (p.col !== 0) return false;
    if (p.row === 0) return v >= 65;
    if (p.row === 3) return v <= 95;
    return v >= 65 && v <= 95;
  };
  const showX = v => p.row === 3 && (p.col === 0 ? v <= 25 : v >= 5);
  const styleAxis = s => {
    s.select(".domain").remove();
    s.selectAll("line").attr("stroke", "#111").attr("stroke-width", 1.1);
    s.selectAll("text").attr("font-size", 12.5).attr("fill", "#222")
      .attr("font-family", "'Liberation Sans', Arial, sans-serif");
  };
  g.append("g").attr("transform", `translate(${x0},0)`)
    .call(d3.axisLeft(y).tickValues(d3.range(60, 101, 5)).tickSize(5).tickPadding(2.5)
      .tickFormat(v => showY(v) ? v : ""))
    .call(styleAxis);
  g.append("g").attr("transform", `translate(${x0},0)`)
    .call(d3.axisLeft(y).tickValues(d3.range(62.5, 100, 5)).tickSize(3).tickFormat(""))
    .call(styleAxis);
  g.append("g").attr("transform", `translate(0,${y0 + plotH})`)
    .call(d3.axisBottom(x).tickValues(d3.range(0, 31, 5)).tickSize(5).tickPadding(3.5)
      .tickFormat(v => showX(v) ? v : ""))
    .call(styleAxis)
    // the last label sits on the page edge: keep it fully inside
    .call(s => s.selectAll(".tick text").filter(v => v === 30).attr("text-anchor", "end").attr("dx", 4));
  g.append("g").attr("transform", `translate(0,${y0 + plotH})`)
    .call(d3.axisBottom(x).tickValues(d3.range(2.5, 30, 5)).tickSize(3).tickFormat(""))
    .call(styleAxis);

  // frame
  g.append("rect").attr("x", x0).attr("y", y0).attr("width", plotW).attr("height", plotH)
    .attr("fill", "none").attr("stroke", "#111").attr("stroke-width", 1.6);

  // sample label
  const yb = y0 + plotH;
  g.append("rect").attr("x", x0 + 10.4).attr("y", yb - 27.5).attr("width", 35.6).attr("height", 18.8)
    .attr("fill", "#fff").attr("stroke", "#888").attr("stroke-width", 1);
  g.append("text").attr("x", x0 + 28.2).attr("y", yb - 13).attr("text-anchor", "middle")
    .attr("font-size", 14).attr("fill", "#222").text(p.code);
  g.append("text").attr("x", x0 + 51.5).attr("y", yb - 12.5)
    .attr("font-size", 17).attr("fill", "#111").text(p.text);

  // axis titles
  if (p.col === 0) {
    svg.append("text").attr("transform", `translate(23,${y0 + plotH / 2}) rotate(-90)`)
      .attr("text-anchor", "middle").attr("font-size", 14).attr("fill", "#222")
      .text("relative humidity [%]");
  }
  if (p.row === 3) {
    svg.append("text").attr("x", x0 + plotW / 2).attr("y", 1218)
      .attr("text-anchor", "middle").attr("font-size", 14).attr("fill", "#222")
      .text("temperature [°C]");
  }
});

// column titles
[[265, 20.7, 191.7, 31, 269.5, 45.5, "EPS ETICS (1.X)"],
 [680, 21.7, 177.3, 31.6, 684, 46.5, "WF ETICS (2.X)"]].forEach(([bx, by, bw, bh, tx, ty, t]) => {
  svg.append("rect").attr("x", bx).attr("y", by).attr("width", bw).attr("height", bh)
    .attr("fill", "#fff").attr("stroke", "#444").attr("stroke-width", 1.1);
  svg.append("text").attr("x", tx).attr("y", ty).attr("font-size", 23).attr("fill", "#111").text(t);
});

// isopleth legend
const leg1 = svg.append("g");
leg1.append("rect").attr("x", 343.3).attr("y", 130).attr("width", 113.4).attr("height", 70)
  .attr("fill", "#fff").attr("stroke", "#666").attr("stroke-width", 1);
leg1.append("text").attr("x", 347).attr("y", 145).attr("font-size", 13.5).attr("fill", "#222").text("Isopleths");
const isoLegend = [
  { name: "ThermNat I",  color: "#3c3c3c", dash: null,  w: 1.8 },
  { name: "ThermNat II", color: "#ff2a2a", dash: null,  w: 1.8 },
  { name: "WTA 6-8",     color: "#36a078", dash: "5,3", w: 1.4 }
];
isoLegend.forEach((d, i) => {
  const cy = 156.7 + i * 16.65;
  leg1.append("line").attr("x1", 345).attr("x2", 377.5).attr("y1", cy).attr("y2", cy)
    .attr("stroke", d.color).attr("stroke-width", d.w).attr("stroke-dasharray", d.dash);
  leg1.append("text").attr("x", 381.7).attr("y", cy + 4.8).attr("font-size", 13.5).attr("fill", "#222").text(d.name);
});

// period legend
const leg2 = svg.append("g");
leg2.append("rect").attr("x", 695).attr("y", 126.7).attr("width", 171.7).attr("height", 95)
  .attr("fill", "#fff").attr("stroke", "#666").attr("stroke-width", 1);
periodLabels.forEach((lab, i) => {
  const cy = 135 + i * 15.65;
  leg2.append("rect").attr("x", 711.7 - 3).attr("y", cy - 3).attr("width", 6).attr("height", 6)
    .attr("fill", periodColors[i]);
  leg2.append("text").attr("x", 728.3).attr("y", cy + 4.4).attr("font-size", 12.5).attr("fill", "#222").text(lab);
});
endMarker(leg2, 711.7, 135 + 5 * 15.65, 6.2);
leg2.append("text").attr("x", 728.3).attr("y", 135 + 5 * 15.65 + 4.4).attr("font-size", 12.5)
  .attr("fill", "#222").text(endLabel);
</script>
</body>
</html>
